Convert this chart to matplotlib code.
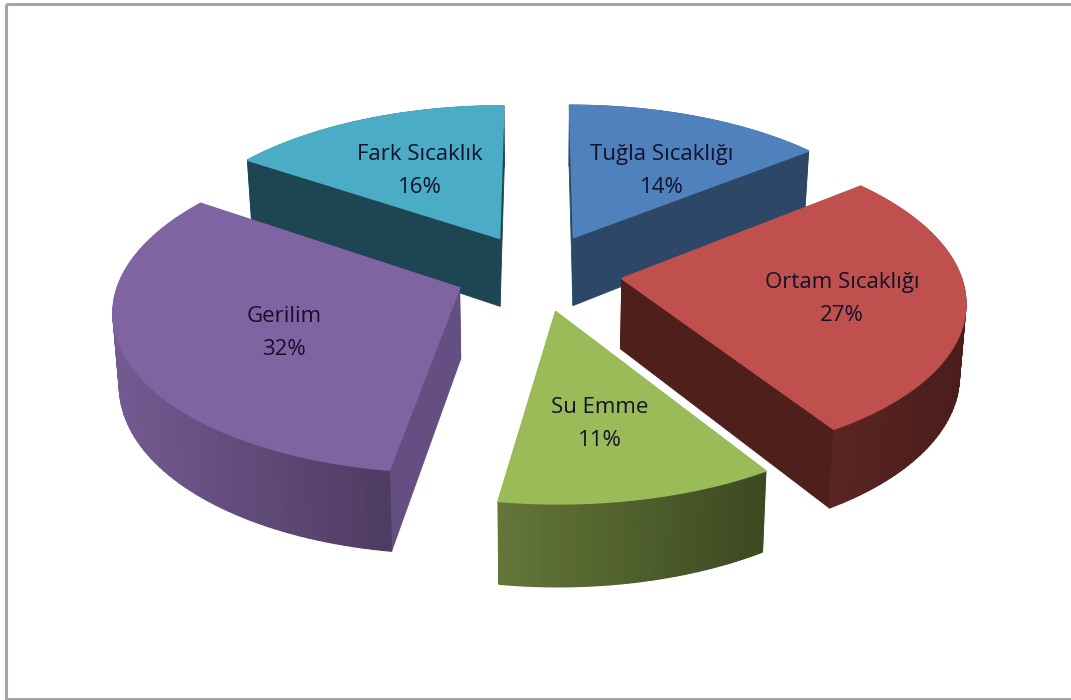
import numpy as np
import matplotlib
matplotlib.use("Agg")
import matplotlib.pyplot as plt
from matplotlib.patches import Polygon, Rectangle
from matplotlib.collections import PolyCollection
from matplotlib.colors import to_rgb

# data
categories = ["Tuğla Sıcaklığı", "Ortam Sıcaklığı", "Su Emme", "Gerilim", "Fark Sıcaklık"]
shares = [14.2, 26.9, 11.3, 32.1, 15.5]

# styles
top_colors = ["#4F81BD", "#C0504D", "#9BBB59", "#8064A2", "#4BACC6"]
side_colors = ["#2C4866", "#4F1F1C", "#5F7034", "#654E82", "#1E4552"]
wall_light = ["#2C4866", "#5A2522", "#647638", "#735A91", "#1E4552"]
wall_dark = ["#2C4866", "#4A1D1B", "#3C4921", "#4E3B62", "#1E4552"]
label_xy = [(662, 171), (842, 299), (600, 424), (284, 333), (420, 171)]
draw_order = [0, 4, 1, 3, 2]

CX, CY, A, B, K, H, EXPLODE = 538, 272, 338, 157, 0.126, 70, 0.25
XSHRINK = 0.985


def project(x, y, z=0.0):
    s = 1.0 / (1.0 + K * np.asarray(y, float))
    xs = XSHRINK if z else 1.0
    return CX + A * np.asarray(x, float) * s * xs, CY - B * np.asarray(y, float) * s + H * s * z


def arc(th0, th1, mid, z=0.0, n=80):
    th = np.linspace(th0, th1, n)
    x = EXPLODE * np.sin(mid) + np.sin(th)
    y = EXPLODE * np.cos(mid) + np.cos(th)
    return np.column_stack(project(x, y, z)), th


def tip(mid, z=0.0):
    return np.array(project(EXPLODE * np.sin(mid), EXPLODE * np.cos(mid), z), float)


fig = plt.figure(figsize=(10.71, 7.0), dpi=100)
ax = fig.add_axes([0, 0, 1, 1])
ax.set_xlim(0, 1071)
ax.set_ylim(700, 0)
ax.axis("off")

ax.add_patch(Rectangle((6, 4), 1100, 695, fill=False, ec="#A6A6A6", lw=2.2))

fracs = np.array(shares, float) / np.sum(shares)
edges = np.concatenate([[0], np.cumsum(fracs)]) * 2 * np.pi

for i in draw_order:
    layer = draw_order.index(i) * 3
    t0, t1 = edges[i], edges[i + 1]
    mid = (t0 + t1) / 2
    top, _ = arc(t0, t1, mid)
    bot, _ = arc(t0, t1, mid, 1.0)
    # radial faces
    for j in (0, -1):
        face = np.array([tip(mid), top[j], bot[j], tip(mid, 1.0)])
        ax.add_patch(Polygon(face, fc=side_colors[i], ec=side_colors[i], lw=0.6, zorder=2 + layer))
    # outer wall with gradient along the screen
    quads, cols = [], []
    xmin, xmax = top[:, 0].min(), top[:, 0].max()
    c0, c1 = np.array(to_rgb(wall_light[i])), np.array(to_rgb(wall_dark[i]))
    for k in range(len(top) - 1):
        quads.append([top[k], top[k + 1], bot[k + 1], bot[k]])
        u = ((top[k, 0] + top[k + 1, 0]) / 2 - xmin) / max(xmax - xmin, 1)
        cols.append(c0 + (c1 - c0) * u)
    ax.add_collection(PolyCollection(quads, facecolors=cols, edgecolors=cols, linewidths=0.9,
                                     zorder=3 + layer))
    # top face
    poly = np.vstack([tip(mid), top])
    ax.add_patch(Polygon(poly, fc=top_colors[i], ec=top_colors[i], lw=1.2, zorder=4 + layer))

for name, share, (lx, ly) in zip(categories, shares, label_xy):
    ax.text(lx, ly, f"{name}\n{share:.0f}%", ha="center", va="center", fontsize=16,
            family="Open Sans", color="#12122A", linespacing=1.7, zorder=50)

fig.savefig("out.png", dpi=100)
